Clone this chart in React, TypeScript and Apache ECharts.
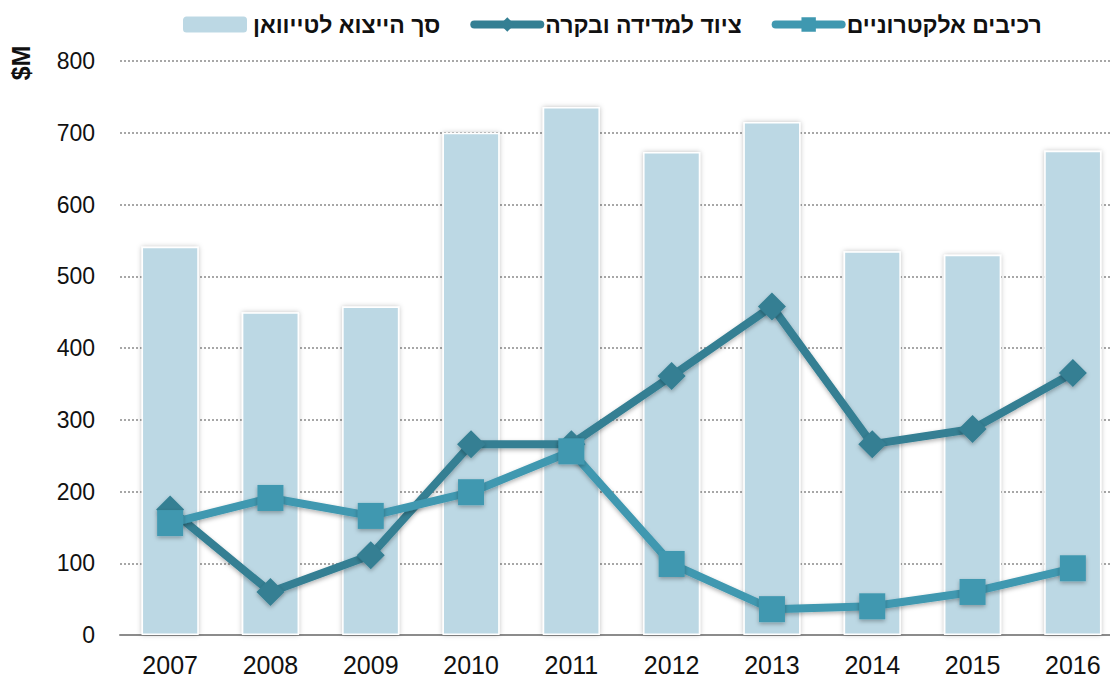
import React, { useEffect, useRef } from "react";
import * as echarts from "echarts";

const years = ["2007", "2008", "2009", "2010", "2011", "2012", "2013", "2014", "2015", "2016"];
const totalExports = [541, 450, 458, 700, 736, 673, 715, 535, 530, 675];
const measurement = [175, 60, 111, 266, 266, 361, 458, 266, 287, 365];
const electronics = [156, 191, 166, 199, 256, 99, 36, 40, 60, 93];

const nameTotal = "סך הייצוא לטייוואן";
const nameMeasure = "ציוד למדידה ובקרה";
const nameElec = "רכיבים אלקטרוניים";

const FONT = "'Liberation Sans', Arial, sans-serif";
const C_MEASURE = "#347f93";
const C_ELEC = "#3f98b0";

export default function App() {
  const ref = useRef<HTMLDivElement>(null);
  useEffect(() => {
    if (!ref.current) return;
    const chart = echarts.init(ref.current, undefined, { renderer: "svg" });
    chart.setOption({
      animation: false,
      textStyle: { fontFamily: FONT },
      legend: {
        top: 8,
        left: 176,
        itemGap: 30,
        itemWidth: 66,
        itemHeight: 18,
        textStyle: { fontSize: 23, fontWeight: "bold", color: "#111", fontFamily: FONT },
        data: [
          { name: nameTotal },
          { name: nameMeasure, lineStyle: { width: 8, cap: "round", color: C_MEASURE } },
          { name: nameElec, lineStyle: { width: 8, cap: "round", color: C_ELEC } },
        ],
      },
      graphic: [
        {
          type: "text",
          x: 21,
          y: 63,
          rotation: Math.PI / 2,
          style: {
            text: "$M",
            fontSize: 25,
            fontWeight: "bold",
            fontFamily: FONT,
            fill: "#111",
            textAlign: "center",
            textVerticalAlign: "middle",
          },
        },
      ],
      grid: { left: 120, right: 0, top: 61, bottom: 45 },
      xAxis: {
        type: "category",
        data: years,
        boundaryGap: true,
        axisLine: { show: true, lineStyle: { color: "#8c8c8c", width: 2 } },
        axisTick: { show: false },
        axisLabel: { fontSize: 25, color: "#111", margin: 17, fontFamily: FONT },
      },
      yAxis: {
        type: "value",
        min: 0,
        max: 800,
        interval: 100,
        axisLine: { show: false },
        axisTick: { show: false },
        axisLabel: { fontSize: 23, color: "#111", margin: 25, fontFamily: FONT },
        splitLine: { lineStyle: { color: "#8a8a8a", type: [2, 2], width: 1.5 } },
      },
      series: [
        {
          name: nameTotal,
          type: "bar",
          data: totalExports,
          barWidth: "57%",
          itemStyle: {
            color: "#bcd8e4",
            borderColor: "#ffffff",
            borderWidth: 1.5,
            shadowBlur: 5,
            shadowColor: "rgba(0,0,0,0.25)",
          },
          z: 1,
        },
        {
          name: nameMeasure,
          type: "line",
          data: measurement,
          symbol: "diamond",
          symbolSize: 28,
          lineStyle: {
            color: C_MEASURE,
            width: 8,
            shadowBlur: 4,
            shadowColor: "rgba(0,0,0,0.3)",
            shadowOffsetY: 2,
          },
          itemStyle: {
            color: C_MEASURE,
            shadowBlur: 4,
            shadowColor: "rgba(0,0,0,0.3)",
            shadowOffsetY: 2,
          },
          z: 3,
        },
        {
          name: nameElec,
          type: "line",
          data: electronics,
          symbol: "rect",
          symbolSize: 26,
          lineStyle: {
            color: C_ELEC,
            width: 8,
            shadowBlur: 4,
            shadowColor: "rgba(0,0,0,0.3)",
            shadowOffsetY: 2,
          },
          itemStyle: {
            color: C_ELEC,
            shadowBlur: 4,
            shadowColor: "rgba(0,0,0,0.3)",
            shadowOffsetY: 2,
          },
          z: 4,
        },
      ],
    });
    return () => chart.dispose();
  }, []);
  return (
    <div
      style={{
        position: "fixed",
        left: 0,
        top: 0,
        width: 1110,
        height: 680,
        overflow: "hidden",
        background: "#fff",
      }}
    >
      <div ref={ref} style={{ width: 1123, height: 680 }} />
    </div>
  );
}
